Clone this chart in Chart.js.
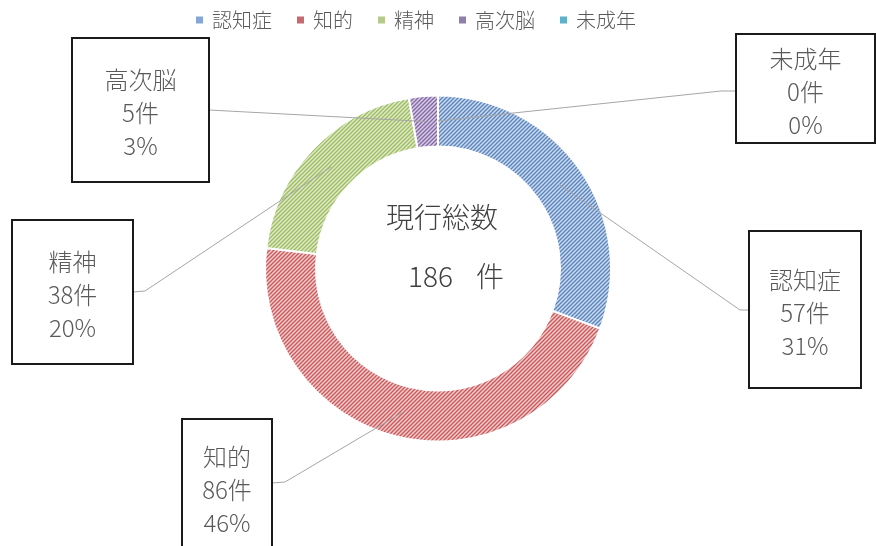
<!DOCTYPE html>
<html>
<head>
<meta charset="utf-8">
<script src="https://cdn.jsdelivr.net/npm/chart.js@4.4.1/dist/chart.umd.min.js"></script>
<style>
    html, body { margin: 0; padding: 0; background: #fff; }
</style>
</head>
<body>
<canvas id="myChart" width="876" height="546"></canvas>
<script>
// data
const categories = ['認知症', '知的', '精神', '高次脳', '未成年'];
const counts = [57, 86, 38, 5, 0];
const unitLabel = '件';
const centerTitle = '現行総数';

const FONT = '"Noto Sans CJK JP", "Noto Sans", sans-serif';
const TEXT_COLOR = '#595959';

// stripe colour / background colour of each slice, and the legend swatch
const stripeColors = ['#5a82bb', '#c9575a', '#9fbd60', '#8467a6', '#4bacc6'];
const fillColors = ['#c9daf1', '#f5cccc', '#dde9c9', '#d6cce4', '#cfe9f1'];
const swatchColors = ['#86a7d6', '#c76a70', '#b4c98c', '#8f80ab', '#5eb0cb'];

// callout boxes: box rect, point where the leader leaves the box, elbow
const callouts = [
    { x: 749, y: 231, w: 112, h: 157, from: [749, 310], elbow: [740, 310] },
    { x: 182, y: 419, w: 90, h: 136, from: [272, 483], elbow: [285, 482] },
    { x: 12, y: 220, w: 121, h: 144, from: [133, 292], elbow: [145, 291] },
    { x: 72, y: 38, w: 137, h: 144, from: [209, 110], elbow: [209, 110] },
    { x: 736, y: 34, w: 139, h: 109, from: [736, 91], elbow: [721, 91] }
];

/**
 * diagonal hatch pattern (wide upward diagonal)
 */
function hatch(ctx, fg, bg)
{
    const c = document.createElement('canvas');
    c.width = 4;
    c.height = 4;
    const p = c.getContext('2d');
    p.fillStyle = bg;
    p.fillRect(0, 0, 4, 4);
    p.strokeStyle = fg;
    p.lineWidth = 1.3;
    p.beginPath();
    p.moveTo(-1, 5); p.lineTo(5, -1);
    p.moveTo(-1, 1); p.lineTo(1, -1);
    p.moveTo(3, 5); p.lineTo(5, 3);
    p.stroke();
    return ctx.createPattern(c, 'repeat');
}

const legendPlugin = {
    id: 'topLegend',
    afterDraw(chart) {
        const ctx = chart.ctx;
        ctx.save();
        ctx.font = '300 20px ' + FONT;
        ctx.textBaseline = 'middle';
        let x = 196;
        const y = 20;
        categories.forEach((label, i) => {
            ctx.fillStyle = swatchColors[i];
            ctx.fillRect(x, y - 3.5, 7, 7);
            x += 16;
            ctx.fillStyle = TEXT_COLOR;
            ctx.fillText(label, x, y);
            x += ctx.measureText(label).width + 25;
        });
        ctx.restore();
    }
};

const calloutPlugin = {
    id: 'callouts',
    afterDatasetsDraw(chart) {
        const ctx = chart.ctx;
        const arcs = chart.getDatasetMeta(0).data;
        const total = counts.reduce((a, b) => a + b, 0);

        ctx.save();
        // leader lines
        ctx.strokeStyle = '#a6a6a6';
        ctx.lineWidth = 1;
        callouts.forEach((c, i) => {
            const pos = arcs[i].tooltipPosition();
            ctx.beginPath();
            ctx.moveTo(c.from[0], c.from[1]);
            ctx.lineTo(c.elbow[0], c.elbow[1]);
            ctx.lineTo(pos.x, pos.y);
            ctx.stroke();
        });

        // boxes
        ctx.textAlign = 'center';
        ctx.textBaseline = 'middle';
        ctx.font = '300 24px ' + FONT;
        callouts.forEach((c, i) => {
            ctx.fillStyle = '#fff';
            ctx.fillRect(c.x, c.y, c.w, c.h);
            ctx.strokeStyle = '#1a1a1a';
            ctx.lineWidth = 2;
            ctx.strokeRect(c.x, c.y, c.w, c.h);

            const pct = Math.round(counts[i] / total * 100);
            const lines = [categories[i], counts[i] + unitLabel, pct + '%'];
            const cx = c.x + c.w / 2;
            const cy = c.y + c.h / 2 + 3;
            ctx.fillStyle = TEXT_COLOR;
            lines.forEach((t, k) => ctx.fillText(t, cx, cy + (k - 1) * 33));
        });

        // centre text
        ctx.fillStyle = '#404040';
        ctx.font = '300 28px ' + FONT;
        ctx.fillText(centerTitle, 442, 217);
        ctx.textAlign = 'left';
        ctx.fillText(String(total), 408, 276);
        ctx.fillText(unitLabel, 476, 276);
        ctx.restore();
    }
};

function loadChart()
{
    const canvas = document.getElementById('myChart');
    const ctx = canvas.getContext('2d');
    const patterns = stripeColors.map((fg, i) => hatch(ctx, fg, fillColors[i]));

    const config = {
        type: 'doughnut',
        data: {
            labels: categories,
            datasets: [{
                data: counts,
                backgroundColor: patterns,
                borderColor: '#ffffff',
                borderWidth: 2
            }]
        },
        options: {
            responsive: false,
            animation: false,
            radius: 173,
            cutout: '70.5%',
            layout: {
                padding: { top: 0, bottom: 9, left: 0, right: 0 }
            },
            plugins: {
                legend: { display: false },
                tooltip: { enabled: false }
            }
        },
        plugins: [calloutPlugin, legendPlugin]
    };

    new Chart(ctx, config);
}

loadChart();
</script>
</body>
</html>
